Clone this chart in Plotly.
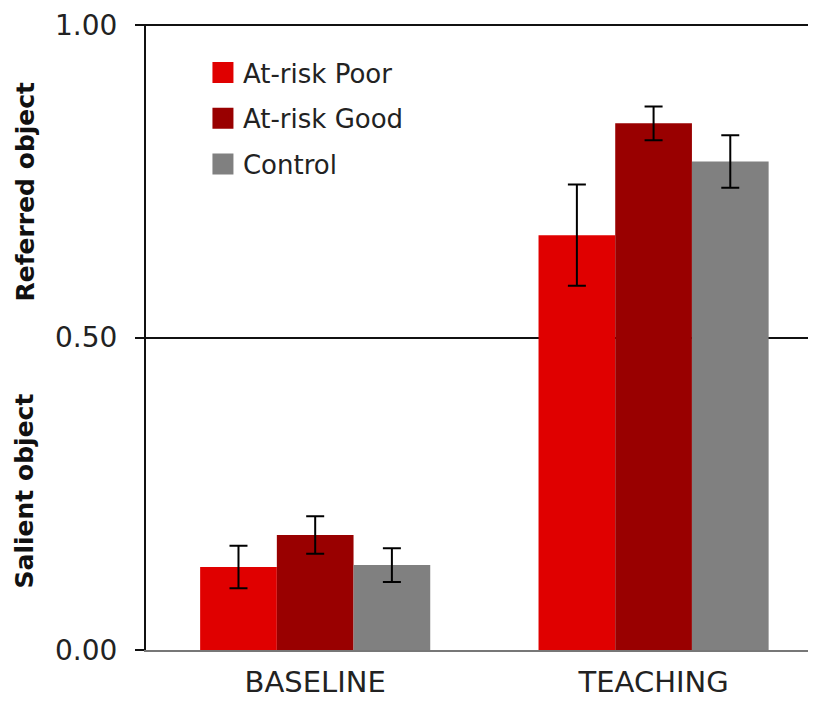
import plotly.graph_objects as go

categories = ["BASELINE", "TEACHING"]
series_names = ["At-risk Poor", "At-risk Good", "Control"]
poor_vals = [0.133, 0.664]
poor_err = [0.034, 0.081]
good_vals = [0.184, 0.843]
good_err = [0.030, 0.027]
control_vals = [0.136, 0.782]
control_err = [0.027, 0.042]
colors = ["#E00000", "#990000", "#808080"]
ytick_vals = [0, 0.5, 1.0]
ytick_text = ["0.00", "0.50", "1.00"]

fig = go.Figure()
for name, vals, errs, col in zip(series_names,
                                 [poor_vals, good_vals, control_vals],
                                 [poor_err, good_err, control_err], colors):
    fig.add_trace(go.Bar(
        x=categories, y=vals, name=name, marker_color=col,
        marker_line_width=0, showlegend=False,
        error_y=dict(type="data", array=errs, color="black", thickness=2, width=9),
    ))
for i, (name, col) in enumerate(zip(series_names, colors)):
    fig.add_trace(go.Scatter(
        x=[None], y=[None], mode="markers", name=name, legendgroup=f"g{i}",
        marker=dict(symbol="square", size=24, color=col,
                    line=dict(width=6, color=col)),
    ))

fig.update_layout(
    width=808, height=694,
    margin=dict(l=138, r=0, t=16, b=52),
    plot_bgcolor="white", paper_bgcolor="white",
    barmode="group", bargap=0.32, bargroupgap=0,
    font=dict(family="DejaVu Sans", color="#222222"),
    legend=dict(x=0.085, y=0.96, xanchor="left", yanchor="top",
                font=dict(size=26, family="DejaVu Sans", color="#222"),
                traceorder="grouped", tracegroupgap=9,
                itemsizing="trace", bgcolor="rgba(0,0,0,0)"),
    showlegend=True,
)
fig.update_xaxes(range=[-0.5, 1.48], showline=True, linecolor="#777777", linewidth=2,
                 ticks="", tickfont=dict(size=29, family="DejaVu Sans", color="#222"),
                 ticklabelstandoff=5,
                 showgrid=False, fixedrange=True)
fig.update_yaxes(range=[0, 1.002], tickvals=ytick_vals, ticktext=ytick_text,
                 tickfont=dict(size=28, family="DejaVu Sans", color="#222"),
                 showline=True, linecolor="#111111", linewidth=2,
                 ticks="outside", ticklen=9, tickwidth=2, tickcolor="#111111",
                 ticklabelstandoff=12,
                 showgrid=True, gridcolor="#111111", gridwidth=2,
                 zeroline=False)

fig.add_annotation(text="<b>Referred object</b>", xref="paper", yref="paper",
                   x=-0.18, y=0.733, textangle=-90, showarrow=False,
                   font=dict(size=25, family="DejaVu Sans", color="#111"),
                   xanchor="center", yanchor="middle")
fig.add_annotation(text="<b>Salient object</b>", xref="paper", yref="paper",
                   x=-0.18, y=0.254, textangle=-90, showarrow=False,
                   font=dict(size=25, family="DejaVu Sans", color="#111"),
                   xanchor="center", yanchor="middle")

fig.write_html("out.html")
